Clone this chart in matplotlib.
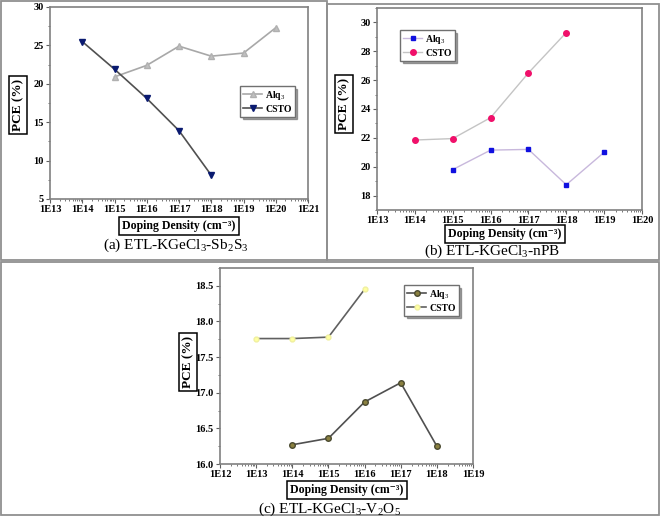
import math
import matplotlib
matplotlib.use("Agg")
from matplotlib import pyplot as plt
from matplotlib.patches import Rectangle
from matplotlib.ticker import AutoMinorLocator, FixedLocator, LogLocator, NullFormatter

plt.rcParams['font.family'] = ['Liberation Serif', 'DejaVu Serif']
plt.rcParams['mathtext.fontset'] = 'custom'
plt.rcParams['mathtext.rm'] = 'Liberation Serif'
plt.rcParams['mathtext.bf'] = 'Liberation Serif:bold'

# (a) ETL-KGeCl3-Sb2S3
a_alq_x = [1e15, 1e16, 1e17, 1e18, 1e19, 1e20]
a_alq_y = [20.9, 22.4, 24.9, 23.6, 24.0, 27.3]
a_csto_x = [1e14, 1e15, 1e16, 1e17, 1e18]
a_csto_y = [25.5, 21.9, 18.1, 13.9, 8.1]

# (b) ETL-KGeCl3-nPB
b_alq_x = [1e15, 1e16, 1e17, 1e18, 1e19]
b_alq_y = [19.8, 21.15, 21.2, 18.75, 21.0]
b_csto_x = [1e14, 1e15, 1e16, 1e17, 1e18]
b_csto_y = [21.85, 21.95, 23.4, 26.5, 29.3]

# (c) ETL-KGeCl3-V2O5
c_alq_x = [1e14, 1e15, 1e16, 1e17, 1e18]
c_alq_y = [16.27, 16.36, 16.87, 17.14, 16.25]
c_csto_x = [1e13, 1e14, 1e15, 1e16]
c_csto_y = [17.76, 17.76, 17.78, 18.45]

W, H = 662, 518
fig = plt.figure(figsize=(W / 100, H / 100), dpi=100)


def fx(px):
    return px / W


def fy(py):
    return 1 - py / H


def make_axes(l, r, t, b):
    return fig.add_axes([fx(l), fy(b), fx(r) - fx(l), fy(t) - fy(b)])


def style(ax, xmin, xmax, ymin, ymax, yticks, yfmt):
    ax.set_xscale('log')
    ax.set_xlim(xmin, xmax)
    ax.set_ylim(ymin, ymax)
    exps = range(int(round(math.log10(xmin))), int(round(math.log10(xmax))) + 1)
    ax.xaxis.set_major_locator(FixedLocator([10.0 ** e for e in exps]))
    ax.set_xticklabels(['1E%d' % e for e in exps])
    ax.xaxis.set_minor_locator(LogLocator(base=10, subs=range(2, 10), numticks=50))
    ax.xaxis.set_minor_formatter(NullFormatter())
    ax.set_yticks(yticks)
    ax.set_yticklabels([yfmt % v for v in yticks])
    ax.yaxis.set_minor_locator(AutoMinorLocator(2))
    for s in ax.spines.values():
        s.set_color('#808080')
        s.set_linewidth(1.2)
    ax.tick_params(which='major', direction='out', length=3, width=0.8, color='#606060',
                   labelsize=7.5, pad=1.5)
    ax.tick_params(which='minor', direction='out', length=1.5, width=0.6, color='#606060')
    for lab in ax.get_xticklabels() + ax.get_yticklabels():
        lab.set_fontweight('bold')


def boxed(x, y, s, rot=0, size=8.5):
    fig.text(fx(x), fy(y), s, rotation=rot, ha='center', va='center',
             fontsize=size, fontweight='bold',
             bbox=dict(boxstyle='square,pad=0.25', fc='white', ec='black', lw=1.1))


def caption(x, y, s):
    fig.text(fx(x), fy(y), s, ha='center', va='center', fontsize=11)


def legend(ax, bx, by):
    leg = ax.legend(loc='upper left', bbox_to_anchor=(bx, by),
                    fontsize=7, frameon=True, fancybox=False, shadow=True,
                    handlelength=2.0, borderpad=0.3, labelspacing=0.3, handletextpad=0.3)
    leg.get_frame().set_edgecolor('#707070')
    for t in leg.get_texts():
        t.set_fontweight('bold')


xlab = 'Doping Density (cm⁻³)'

# panel frames
for (x0, y0, x1, y1) in [(1, 1, 327, 260), (327, 4, 659, 260), (1, 262, 659, 515)]:
    fig.add_artist(Rectangle((fx(x0), fy(y1)), fx(x1) - fx(x0), fy(y0) - fy(y1),
                             transform=fig.transFigure, fill=False, ec='#909090', lw=1.3))

# ---- (a)
ax1 = make_axes(50, 308, 7, 199)
ax1.plot(a_alq_x, a_alq_y, color='#a8a8a8', lw=1.2, marker='^', ms=4.5,
         mfc='#c0c0c0', mec='#b0b0b0', label='Alq$_3$')
ax1.plot(a_csto_x, a_csto_y, color='#505050', lw=1.2, marker='v', ms=5,
         mfc='#0a1a70', mec='#0a1a70', label='CSTO')
style(ax1, 1e13, 1e21, 5, 30, [5, 10, 15, 20, 25, 30], '%d')
legend(ax1, (235 - 50) / 258, 1 - (81 - 7) / 192)
boxed(18, 105, 'PCE (%)', rot=90, size=9.5)
boxed(179, 226, xlab, size=8.5)
caption(176, 245, '(a) ETL-KGeCl$_3$-Sb$_2$S$_3$')

# ---- (b)
ax2 = make_axes(377, 642, 8, 210)
ax2.plot(b_alq_x, b_alq_y, color='#c8b8dc', lw=1.0, marker='s', ms=3.5,
         mfc='#1010e0', mec='#1010e0', label='Alq$_3$')
ax2.plot(b_csto_x, b_csto_y, color='#c4c4c4', lw=1.0, marker='o', ms=4,
         mfc='#f0106a', mec='#f0106a', label='CSTO')
style(ax2, 1e13, 1e20, 17, 31, [18, 20, 22, 24, 26, 28, 30], '%d')
legend(ax2, (395 - 377) / 265, 1 - (25 - 8) / 202)
boxed(344, 104, 'PCE (%)', rot=90, size=9.5)
boxed(505, 234, xlab, size=8.5)
caption(492, 251, '(b) ETL-KGeCl$_3$-nPB')

# ---- (c)
ax3 = make_axes(220, 473, 268, 464)
ax3.plot(c_alq_x, c_alq_y, color='#505050', lw=1.2, marker='o', ms=4,
         mfc='#8a8040', mec='#4a4a30', label='Alq$_3$')
ax3.plot(c_csto_x, c_csto_y, color='#606060', lw=1.2, marker='o', ms=3.5,
         mfc='#ffffa0', mec='#f0f0a0', label='CSTO')
style(ax3, 1e12, 1e19, 16.0, 18.75, [16.0, 16.5, 17.0, 17.5, 18.0, 18.5], '%.1f')
legend(ax3, (399 - 220) / 253, 1 - (280 - 268) / 196)
boxed(188, 362, 'PCE (%)', rot=90, size=9.5)
boxed(347, 490, xlab, size=8.5)
caption(330, 509, '(c) ETL-KGeCl$_3$-V$_2$O$_5$')

fig.savefig('out.png', dpi=100)
